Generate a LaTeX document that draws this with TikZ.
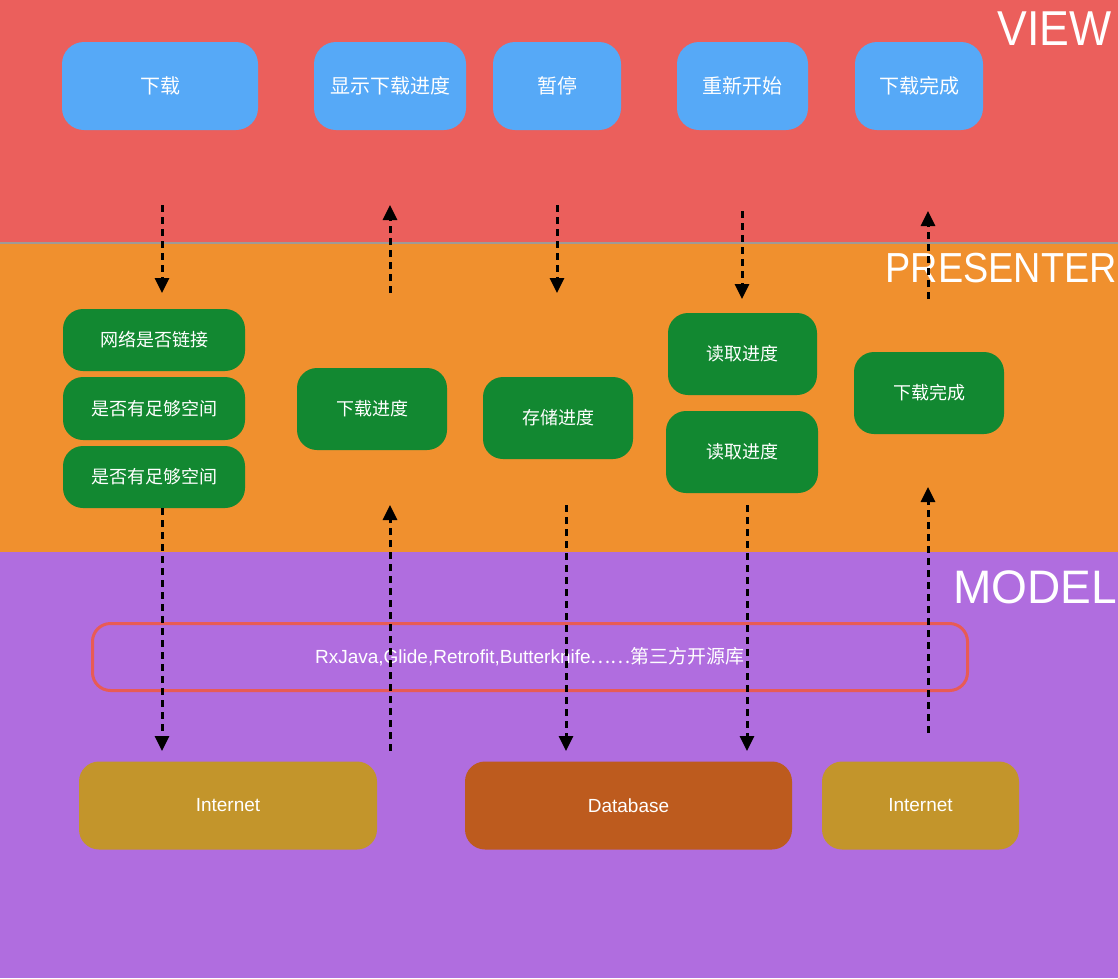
\documentclass[tikz,border=0pt]{standalone}
\usepackage{fontspec}
\setmainfont{Noto Sans CJK SC}
\newfontfamily\lat{Liberation Sans}
\usepackage{graphicx}
\usetikzlibrary{arrows.meta}
\definecolor{viewbg}{HTML}{EB5F5C}
\definecolor{presbg}{HTML}{F0902E}
\definecolor{modelbg}{HTML}{B06DDF}
\definecolor{viewblue}{HTML}{56A9F7}
\definecolor{presgreen}{HTML}{128831}
\definecolor{netgold}{HTML}{C3952B}
\definecolor{dbrust}{HTML}{BD5B1E}
\definecolor{liboutline}{HTML}{E85B55}
\definecolor{sepgray}{HTML}{A09A96}
\begin{document}
\begin{tikzpicture}[x=1pt,y=-1pt,
  vbox/.style={fill=viewblue, draw=none, rounded corners=22pt, inner sep=0pt, text=white,
    font=\fontsize{20}{24}\selectfont},
  pbox/.style={fill=presgreen, draw=none, rounded corners=20pt, inner sep=0pt, text=white,
    font=\fontsize{18}{22}\selectfont},
  mbox/.style={fill=#1, draw=none, rounded corners=20pt, inner sep=0pt, text=white,
    minimum height=88pt, font=\lat\fontsize{19}{23}\selectfont},
  layerlabel/.style={anchor=north east, inner sep=0pt, text=white},
  flow/.style={draw=black, line width=3pt, dash pattern=on 7pt off 5pt,
    -{Triangle[width=14pt,length=15pt]}, shorten >=0pt},
]
\useasboundingbox (0,0) rectangle (1118,978);
% bands
\fill[viewbg] (0,0) rectangle (1118,243);
\fill[presbg] (0,243) rectangle (1118,552);
\fill[modelbg] (0,552) rectangle (1118,978);
\draw[sepgray, line width=2pt] (0,243) -- (1118,243);

% layer labels
\node[layerlabel, font=\lat\fontsize{49}{50}\selectfont] (lview) at (1112,12) {\scalebox{0.91}[1]{VIEW}};
\node[layerlabel, font=\lat\fontsize{42}{44}\selectfont] (lpres) at (1117,253) {\scalebox{0.9}[1]{PRESENTER}};
\node[layerlabel, font=\lat\fontsize{47}{49}\selectfont] (lmodel) at (1117,570) {\scalebox{0.98}[1]{MODEL}};

% view boxes
\node[vbox, minimum width=196pt, minimum height=88pt] (v1) at (160,86) {下载};
\node[vbox, minimum width=152pt, minimum height=88pt] (v2) at (390,86) {显示下载进度};
\node[vbox, minimum width=128pt, minimum height=88pt] (v3) at (557,86) {暂停};
\node[vbox, minimum width=131pt, minimum height=88pt] (v4) at (742.5,86) {重新开始};
\node[vbox, minimum width=128pt, minimum height=88pt] (v5) at (919,86) {下载完成};

% presenter boxes
\node[pbox, minimum width=182pt, minimum height=62pt] (p1) at (154,340) {网络是否链接};
\node[pbox, minimum width=182pt, minimum height=63pt] (p2) at (154,408.5) {是否有足够空间};
\node[pbox, minimum width=182pt, minimum height=62pt] (p3) at (154,477) {是否有足够空间};
\node[pbox, minimum width=150pt, minimum height=82pt] (p4) at (372,409) {下载进度};
\node[pbox, minimum width=150pt, minimum height=82pt] (p5) at (558,418) {存储进度};
\node[pbox, minimum width=149pt, minimum height=82pt] (p6) at (742.5,354) {读取进度};
\node[pbox, minimum width=152pt, minimum height=82pt] (p7) at (742,452) {读取进度};
\node[pbox, minimum width=150pt, minimum height=82pt] (p8) at (929,393) {下载完成};

% third-party libraries
\node[draw=liboutline, line width=3pt, rounded corners=18pt, fill=none, inner sep=0pt,
  minimum width=875pt, minimum height=67pt, text=white, font=\fontsize{19}{23}\selectfont]
  (lib) at (530,657) {{\lat RxJava,Glide,Retrofit,Butterknife}……第三方开源库};

% model boxes
\node[mbox=netgold, minimum width=298pt] (m1) at (228,805.5) {Internet};
\node[mbox=dbrust, minimum width=327pt] (m2) at (628.5,805.5) {Database};
\node[mbox=netgold, minimum width=197pt] (m3) at (920.5,805.5) {Internet};

% arrow end points
\coordinate (a1s) at (162,205); \coordinate (a1e) at (162,293);
\coordinate (a2s) at (390,293); \coordinate (a2e) at (390,205);
\coordinate (a3s) at (557,205); \coordinate (a3e) at (557,293);
\coordinate (a4s) at (742,211); \coordinate (a4e) at (742,299);
\coordinate (a5s) at (928,299); \coordinate (a5e) at (928,211);
\coordinate (b1s) at (162,508); \coordinate (b1e) at (162,751);
\coordinate (b2s) at (390,751); \coordinate (b2e) at (390,505);
\coordinate (b3s) at (566,505); \coordinate (b3e) at (566,751);
\coordinate (b4s) at (747,505); \coordinate (b4e) at (747,751);
\coordinate (b5s) at (928,733); \coordinate (b5e) at (928,487);

\draw[flow] (a1s) -- (a1e);
\draw[flow] (a2s) -- (a2e);
\draw[flow] (a3s) -- (a3e);
\draw[flow] (a4s) -- (a4e);
\draw[flow] (a5s) -- (a5e);
\draw[flow] (b1s) -- (b1e);
\draw[flow] (b2s) -- (b2e);
\draw[flow] (b3s) -- (b3e);
\draw[flow] (b4s) -- (b4e);
\draw[flow] (b5s) -- (b5e);
\end{tikzpicture}
\end{document}
